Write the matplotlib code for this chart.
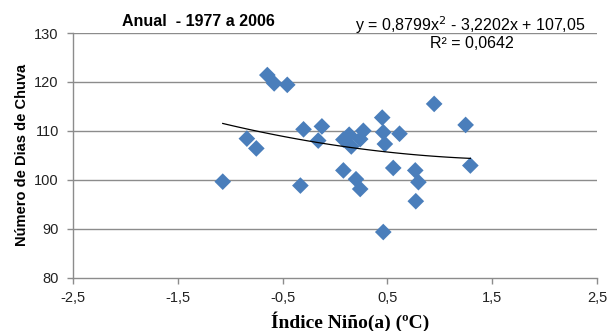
import numpy as np
import matplotlib
matplotlib.use("Agg")
import matplotlib.pyplot as plt

#data
nino_idx = [-1.07, -0.84, -0.75, -0.645, -0.58, -0.455, -0.30, -0.33, -0.125, -0.16,
            0.08, 0.135, 0.155, 0.24, 0.27, 0.08, 0.20, 0.24, 0.45, 0.46,
            0.475, 0.46, 0.555, 0.615, 0.765, 0.795, 0.77, 0.945, 1.245, 1.29]
dias_chuva = [99.6, 108.4, 106.4, 121.4, 119.7, 119.4, 110.3, 98.8, 110.9, 108.0,
              108.2, 109.2, 106.8, 108.3, 110.0, 101.9, 100.1, 98.1, 112.7, 109.7,
              107.3, 89.3, 102.4, 109.4, 101.9, 99.5, 95.6, 115.5, 111.2, 102.9]

#trend line coefficients shown on the chart
coef = [0.8799, -3.2202, 107.05]

x_ticks = [-2.5, -1.5, -0.5, 0.5, 1.5, 2.5]
x_tick_labels = ['-2,5', '-1,5', '-0,5', '0,5', '1,5', '2,5']
y_ticks = [80, 90, 100, 110, 120, 130]

plt.rcParams['font.family'] = ['Liberation Sans', 'DejaVu Sans']

fig = plt.figure(figsize=(6.08, 3.31), dpi=100)
ax = fig.add_axes([0.1196, 0.1616, 0.8628, 0.7387])

grid_col = '#8c8c8c'
for v in y_ticks[1:]:
    ax.axhline(v, color=grid_col, lw=1.0, zorder=1)

ax.scatter(nino_idx, dias_chuva, marker='D', s=72, color='#4a7ebb',
           edgecolors='none', zorder=3)

xs = np.linspace(min(nino_idx), max(nino_idx), 100)
ax.plot(xs, np.polyval(coef, xs), color='black', lw=0.9, zorder=4)

ax.set_xlim(-2.5, 2.5)
ax.set_ylim(80, 130)
ax.set_xticks(x_ticks)
ax.set_xticklabels(x_tick_labels)
ax.set_yticks(y_ticks)

for s in ['top', 'right']:
    ax.spines[s].set_visible(False)
for s in ['left', 'bottom']:
    ax.spines[s].set_color(grid_col)
    ax.spines[s].set_linewidth(1.0)
ax.tick_params(axis='both', colors=grid_col, length=4, width=1.0,
               labelcolor='#222222', labelsize=10.5)
ax.tick_params(axis='x', pad=6)
ax.tick_params(axis='y', pad=6)

ax.set_ylabel('Número de Dias de Chuva', fontsize=10.5, fontweight='bold', labelpad=4)

fig.text(0.576, 0.028, 'Índice Niño(a) (ºC)', fontsize=14, fontweight='bold',
         family=['Liberation Serif', 'DejaVu Serif'], ha='center', va='center')

fig.text(0.327, 0.934, 'Anual  - 1977 a 2006', fontsize=11.5, fontweight='bold',
         ha='center', va='center')
fig.text(0.774, 0.924, 'y = 0,8799x$^2$ - 3,2202x + 107,05', fontsize=11.5,
         ha='center', va='center')
fig.text(0.776, 0.870, 'R² = 0,0642', fontsize=11.5, ha='center', va='center')

fig.savefig('out.png', dpi=100)
